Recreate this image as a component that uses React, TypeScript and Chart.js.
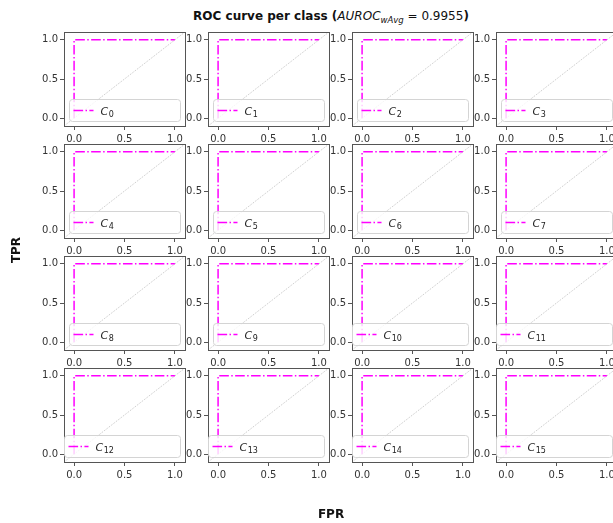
import React, { useEffect, useRef } from 'react';
import { Chart, registerables } from 'chart.js';

Chart.register(...registerables);

// ---- data ----
const classLabels = ['0', '1', '2', '3', '4', '5', '6', '7', '8', '9', '10', '11', '12', '13', '14', '15'];
const rocFpr = [0, 0, 1];
const rocTpr = [0, 1, 1];
const chanceFpr = [-0.1, 1.1];
const chanceTpr = [-0.1, 1.1];
const axisTicks = [0, 0.5, 1];
const axisMin = -0.1;
const axisMax = 1.1;
const aurocWAvg = '0.9955';

// ---- layout ----
const GRID_COLS = 4;
const PLOT_W = 121;
const PLOT_H = 94;
const PLOT_X0 = 64;
const PLOT_Y0 = 32;
const STEP_X = 144;
const STEP_Y = 112;
const PAD_L = 34;
const PAD_R = 3;
const PAD_T = 8;
const PAD_B = 22;
const FONT = "'DejaVu Sans', sans-serif";

const framePlugin = {
  id: 'frame',
  afterDatasetsDraw(chart: any) {
    const { ctx, chartArea } = chart;
    ctx.save();
    ctx.strokeStyle = '#555';
    ctx.lineWidth = 1;
    ctx.strokeRect(
      Math.round(chartArea.left) + 0.5,
      Math.round(chartArea.top) + 0.5,
      Math.round(chartArea.right - chartArea.left),
      Math.round(chartArea.bottom - chartArea.top)
    );
    ctx.restore();
  },
};

const legendPlugin = {
  id: 'subLegend',
  afterDraw(chart: any) {
    const { ctx, chartArea } = chart;
    const ds = chart.data.datasets[1];
    const label: string = ds.label;
    const wide = label.length > 1;
    const bw = wide ? 116 : 111;
    const bh = 22;
    const bx = Math.round(chartArea.left) + (wide ? 0 : 5) + 0.5;
    const by = Math.round(chartArea.bottom) - 5 - bh + 0.5;
    ctx.save();
    const r = 3;
    ctx.beginPath();
    ctx.moveTo(bx + r, by);
    ctx.lineTo(bx + bw - r, by);
    ctx.arcTo(bx + bw, by, bx + bw, by + r, r);
    ctx.lineTo(bx + bw, by + bh - r);
    ctx.arcTo(bx + bw, by + bh, bx + bw - r, by + bh, r);
    ctx.lineTo(bx + r, by + bh);
    ctx.arcTo(bx, by + bh, bx, by + bh - r, r);
    ctx.lineTo(bx, by + r);
    ctx.arcTo(bx, by, bx + r, by, r);
    ctx.closePath();
    ctx.fillStyle = 'rgba(255,255,255,0.8)';
    ctx.fill();
    ctx.strokeStyle = '#d4d4d4';
    ctx.lineWidth = 1;
    ctx.stroke();

    const cy = by + bh / 2;
    ctx.beginPath();
    ctx.setLineDash(ds.borderDash);
    ctx.strokeStyle = ds.borderColor;
    ctx.lineWidth = ds.borderWidth;
    ctx.moveTo(bx + 4, cy);
    ctx.lineTo(bx + 24, cy);
    ctx.stroke();
    ctx.setLineDash([]);

    ctx.fillStyle = '#222';
    ctx.textBaseline = 'alphabetic';
    ctx.textAlign = 'left';
    ctx.font = `italic 11px ${FONT}`;
    const tx = bx + 31;
    const ty = cy + 4;
    ctx.fillText('C', tx, ty);
    const cw = ctx.measureText('C').width;
    ctx.font = `8px ${FONT}`;
    ctx.fillText(label, tx + cw + 0.5, ty + 2);
    ctx.restore();
  },
};

function axisCommon(isX: boolean) {
  return {
    type: 'linear' as const,
    min: axisMin,
    max: axisMax,
    afterBuildTicks: (s: any) => {
      s.ticks = axisTicks.map((v) => ({ value: v }));
    },
    afterFit: (s: any) => {
      if (isX) s.height = PAD_B;
      else s.width = PAD_L;
    },
    ticks: {
      callback: (v: any) => Number(v).toFixed(1),
      font: { family: FONT, size: 10 },
      color: '#333',
      padding: isX ? 3 : 2,
      maxRotation: 0,
      autoSkip: false,
    },
    grid: {
      drawOnChartArea: false,
      drawTicks: true,
      tickLength: 4,
      tickColor: '#555',
      lineWidth: 1,
    },
    border: { display: false },
  };
}

function Subplot({ label, index }: { label: string; index: number }) {
  const ref = useRef<HTMLCanvasElement | null>(null);
  const col = index % GRID_COLS;
  const row = Math.floor(index / GRID_COLS);
  const left = PLOT_X0 + col * STEP_X - PAD_L;
  const top = PLOT_Y0 + row * STEP_Y - PAD_T;
  const w = PAD_L + PLOT_W + PAD_R;
  const h = PAD_T + PLOT_H + PAD_B;

  useEffect(() => {
    const chart = new Chart(ref.current as HTMLCanvasElement, {
      type: 'line',
      data: {
        datasets: [
          {
            label: 'chance',
            data: chanceFpr.map((x, i) => ({ x, y: chanceTpr[i] })),
            borderColor: '#a8a8a8',
            borderWidth: 0.7,
            borderDash: [1, 1.2],
            pointRadius: 0,
            fill: false,
          },
          {
            label,
            data: rocFpr.map((x, i) => ({ x, y: rocTpr[i] })),
            borderColor: '#ff00ff',
            borderWidth: 1.5,
            borderDash: [9.6, 2.4, 1.5, 2.4],
            pointRadius: 0,
            fill: false,
          },
        ],
      },
      options: {
        animation: false,
        responsive: false,
        events: [],
        layout: { padding: { left: 0, right: PAD_R, top: PAD_T, bottom: 0 } },
        plugins: {
          legend: { display: false },
          tooltip: { enabled: false },
          title: { display: false },
        },
        scales: {
          x: axisCommon(true) as any,
          y: axisCommon(false) as any,
        },
      },
      plugins: [framePlugin, legendPlugin],
    });
    return () => chart.destroy();
  }, [label]);

  return (
    <canvas
      ref={ref}
      width={w}
      height={h}
      style={{ position: 'absolute', left, top, width: w, height: h }}
    />
  );
}

export default function App() {
  return (
    <div
      style={{
        position: 'fixed',
        left: 0,
        top: 0,
        width: 613,
        height: 523,
        overflow: 'hidden',
        background: '#fff',
        fontFamily: FONT,
        color: '#111',
      }}
    >
      <div
        style={{
          position: 'absolute',
          left: 331,
          top: 8,
          transform: 'translateX(-50%)',
          whiteSpace: 'nowrap',
          fontSize: 12,
          lineHeight: '16px',
          fontWeight: 'bold',
        }}
      >
        ROC curve per class (
        <span style={{ fontWeight: 'normal', fontStyle: 'italic' }}>AUROC</span>
        <span
          style={{
            fontWeight: 'normal',
            fontStyle: 'italic',
            fontSize: 8.5,
            position: 'relative',
            top: 3,
          }}
        >
          wAvg
        </span>
        <span style={{ fontWeight: 'normal' }}> = {aurocWAvg}</span>)
      </div>
      {classLabels.map((c, i) => (
        <Subplot key={c} label={c} index={i} />
      ))}
      <div
        style={{
          position: 'absolute',
          left: 16,
          top: 250,
          transform: 'translate(-50%, -50%) rotate(-90deg)',
          fontSize: 12,
          fontWeight: 'bold',
          whiteSpace: 'nowrap',
        }}
      >
        TPR
      </div>
      <div
        style={{
          position: 'absolute',
          left: 331,
          top: 514,
          transform: 'translate(-50%, -50%)',
          fontSize: 12,
          fontWeight: 'bold',
          whiteSpace: 'nowrap',
        }}
      >
        FPR
      </div>
    </div>
  );
}
